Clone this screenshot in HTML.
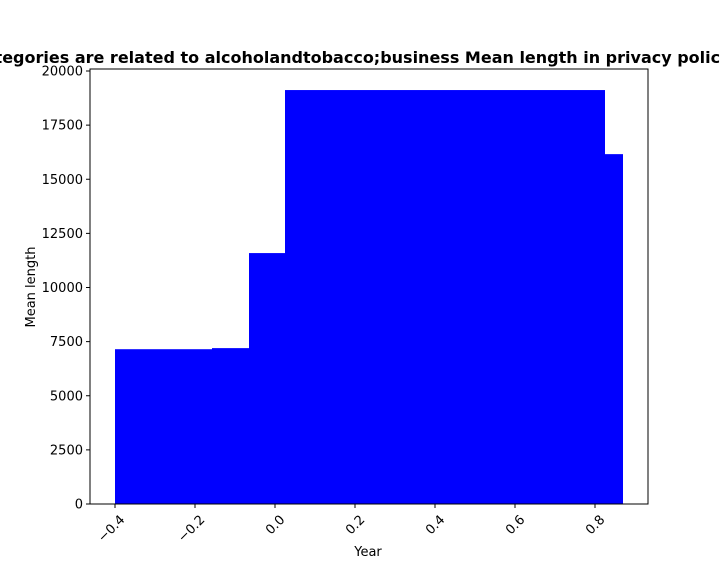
<!DOCTYPE html>
<html><head><meta charset="utf-8"><style>
html,body{margin:0;padding:0;background:#fff;}
svg text{font-family:"DejaVu Sans","Liberation Sans",sans-serif;}
</style></head><body>
<svg id="chart" width="720" height="576" xmlns="http://www.w3.org/2000/svg">
<rect width="720" height="576" fill="#fff"/>
<text x="359" y="63" text-anchor="middle" font-size="16" font-weight="bold">Categories are related to alcoholandtobacco;business Mean length in privacy policies</text>
<g id="bars"></g>
<rect x="90" y="69" width="558" height="435" fill="none" stroke="#000" stroke-width="1"/>
<g id="yticks"></g>
<g id="xticks"></g>
<text x="368" y="556" text-anchor="middle" font-size="13">Year</text>
<text transform="translate(35,287) rotate(-90)" text-anchor="middle" font-size="13">Mean length</text>
</svg>
<script>
const centers = [0, 0.2425, 0.335, 0.47, 0.425];
const values = [7150, 7200, 11590, 16160, 19120];
const barWidth = 0.8;
const yTicks = [0, 2500, 5000, 7500, 10000, 12500, 15000, 17500, 20000];
const xTicks = [-0.4, -0.2, 0.0, 0.2, 0.4, 0.6, 0.8];
const xTickLabels = ["\u22120.4", "\u22120.2", "0.0", "0.2", "0.4", "0.6", "0.8"];

const NS = "http://www.w3.org/2000/svg";
function xs(v){ return 275 + v * 400; }
function ys(v){ return 504 - v * (433 / 20000); }

const gb = document.getElementById('bars');
centers.forEach((c, i) => {
  const r = document.createElementNS(NS, 'rect');
  const x0 = xs(c - barWidth / 2), x1 = xs(c + barWidth / 2);
  r.setAttribute('x', x0);
  r.setAttribute('y', ys(values[i]));
  r.setAttribute('width', x1 - x0);
  r.setAttribute('height', ys(0) - ys(values[i]));
  r.setAttribute('fill', '#0000ff');
  
  
  gb.appendChild(r);
});

const gy = document.getElementById('yticks');
yTicks.forEach(t => {
  const y = ys(t);
  const l = document.createElementNS(NS, 'line');
  l.setAttribute('x1', 86); l.setAttribute('x2', 90);
  l.setAttribute('y1', y); l.setAttribute('y2', y);
  l.setAttribute('stroke', '#000');
  
  
  gy.appendChild(l);
  const tx = document.createElementNS(NS, 'text');
  tx.setAttribute('x', 83); tx.setAttribute('y', y + 4.5);
  tx.setAttribute('text-anchor', 'end'); tx.setAttribute('font-size', '13');
  tx.textContent = t;
  
  
  gy.appendChild(tx);
});

const gx = document.getElementById('xticks');
xTicks.forEach((t, i) => {
  const x = xs(t);
  const l = document.createElementNS(NS, 'line');
  l.setAttribute('x1', x); l.setAttribute('x2', x);
  l.setAttribute('y1', 504); l.setAttribute('y2', 508);
  l.setAttribute('stroke', '#000');
  
  
  gx.appendChild(l);
  const tx = document.createElementNS(NS, 'text');
  tx.setAttribute('transform', 'translate(' + (x + 4) + ',514) rotate(-45)');
  tx.setAttribute('text-anchor', 'end'); tx.setAttribute('font-size', '13');
  tx.setAttribute('dy', '0.7em');
  tx.textContent = xTickLabels[i];
  
  
  gx.appendChild(tx);
});
</script>
</body></html>
